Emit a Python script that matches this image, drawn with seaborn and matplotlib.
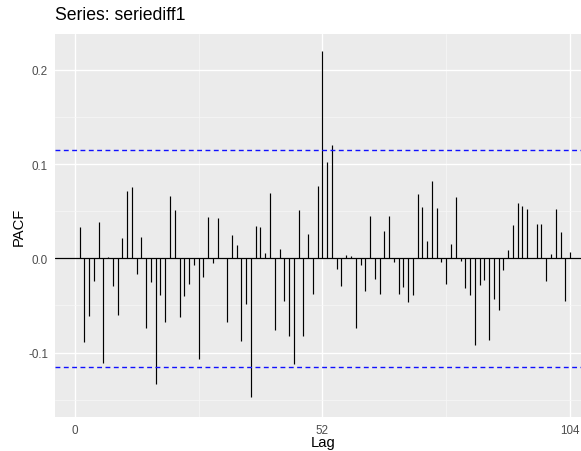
import numpy as np
import matplotlib
matplotlib.use("Agg")
import matplotlib.pyplot as plt
import seaborn as sns

# Partial autocorrelations of the differenced series, lags 1..104
lags = list(range(1, 105))
pacf_values = [
    0.033, -0.089, -0.0615, -0.024, 0.039, -0.111, 0.0014, -0.029, -0.060, 0.0216,
    0.0714, 0.0753, -0.017, 0.0226, -0.074, -0.025, -0.1336, -0.039, -0.0675, 0.066,
    0.051, -0.0626, -0.040, -0.027, -0.0067, -0.107, -0.020, 0.0438, -0.0046, 0.0428,
    0.0005, -0.068, 0.0247, 0.0145, -0.088, -0.0484, -0.1467, 0.0346, 0.0336, 0.006,
    0.0689, -0.0756, 0.0103, -0.0456, -0.082, -0.112, 0.0509, -0.0827, 0.0255, -0.0375,
    0.0764, 0.2202, 0.1018, 0.120, -0.0117, -0.029, 0.0032, 0.0025, -0.0735, -0.0067,
    -0.0343, 0.0449, -0.0219, -0.0382, 0.0286, 0.0449, -0.0035, -0.0382, -0.030, -0.046,
    -0.0389, 0.0682, 0.0541, 0.0184, 0.0824, 0.053, -0.0042, -0.0269, 0.0152, 0.065,
    -0.0032, -0.0311, -0.0389, -0.0919, -0.0279, -0.023, -0.0866, -0.0431, -0.0544, -0.0127,
    0.0085, 0.035, 0.0583, 0.0551, 0.052, 0.0005, 0.0368, 0.0368, -0.024, 0.0042,
    0.052, 0.0276, -0.0456, 0.0064,
]
conf_limit = 0.115
x_ticks = [0, 52, 104]
y_ticks = [-0.1, 0.0, 0.1, 0.2]
y_tick_labels = ["-0.1", "0.0", "0.1", "0.2"]

sns.set_theme(style="darkgrid", rc={
    "axes.facecolor": "#EBEBEB",
    "grid.color": "white",
    "figure.facecolor": "white",
})
plt.rcParams["font.family"] = ["Liberation Sans", "DejaVu Sans"]

W, H = 581, 452
fig = plt.figure(figsize=(W / 100, H / 100), dpi=100)
left_px, right_px, top_px, bottom_px = 55, 581, 35, 418
ax = fig.add_axes([left_px / W, 1 - bottom_px / H,
                   (right_px - left_px) / W, (bottom_px - top_px) / H])

# zero line, significance bounds, then the PACF spikes
ax.axhline(0, color="black", lw=0.9, zorder=3)
for c in (conf_limit, -conf_limit):
    ax.axhline(c, color="#1010FF", lw=1.0, ls=(0, (3.5, 2.5)), zorder=5)
ax.vlines(lags, 0, pacf_values, color="black", lw=0.85, zorder=4)

ax.set_xlim(-4.15, 106.3)
ax.set_ylim(-0.1683, 0.2379)

ax.set_xticks(x_ticks)
ax.set_xticklabels([str(t) for t in x_ticks])
ax.set_yticks(y_ticks)
ax.set_yticklabels(y_tick_labels)
ax.set_xticks([26, 78], minor=True)
ax.set_yticks([-0.15, -0.05, 0.05, 0.15], minor=True)
ax.grid(which="major", color="white", lw=1.0)
ax.grid(which="minor", color="#F7F7F7", lw=0.5)
ax.tick_params(which="major", length=3.5, width=0.8, color="#333333",
               labelsize=8.4, labelcolor="#4D4D4D", pad=1.5)
ax.tick_params(which="minor", length=0)
for s in ax.spines.values():
    s.set_visible(False)

ax.set_xlabel("Lag", fontsize=10.6, color="black")
ax.set_ylabel("PACF", fontsize=10.6, color="black")
ax.xaxis.set_label_coords((323 - left_px) / (right_px - left_px), -(443 - bottom_px) / (bottom_px - top_px))
ax.yaxis.set_label_coords(-(left_px - 18.5) / (right_px - left_px), 0.5)
ax.xaxis.label.set_va("center")
ax.yaxis.label.set_va("center")

fig.text(left_px / W, 1 - 20 / H, "Series: seriediff1", fontsize=12.7,
         ha="left", va="baseline", color="black")

fig.savefig("out.png", dpi=100)
